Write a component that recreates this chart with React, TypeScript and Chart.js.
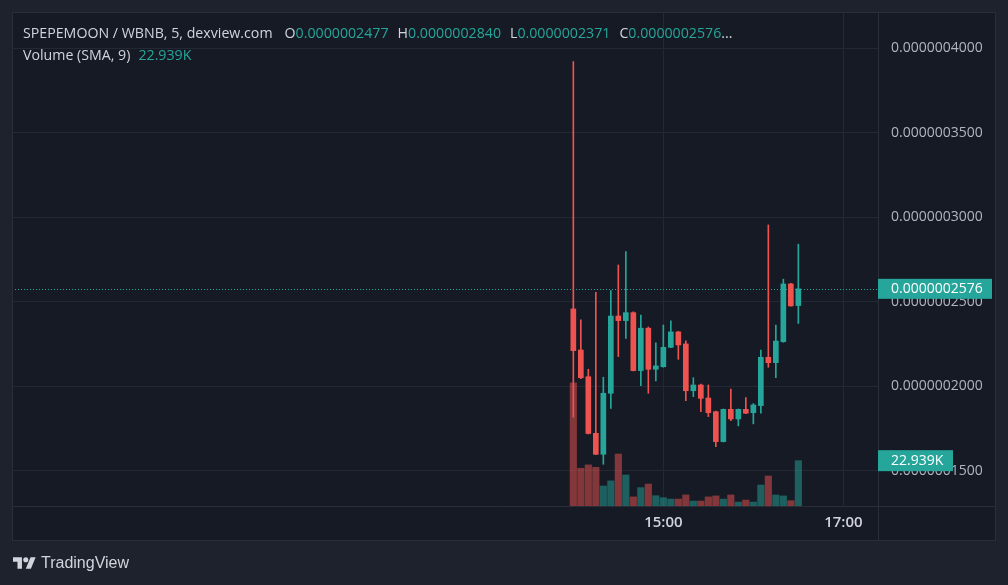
import React, { useEffect, useRef } from "react";
import { Chart, registerables } from "chart.js";

Chart.register(...registerables);

const times = [
  "14:00", "14:05", "14:10", "14:15", "14:20", "14:25", "14:30", "14:35", "14:40", "14:45",
  "14:50", "14:55", "15:00", "15:05", "15:10", "15:15", "15:20", "15:25", "15:30", "15:35",
  "15:40", "15:45", "15:50", "15:55", "16:00", "16:05", "16:10", "16:15", "16:20", "16:25",
  "16:30",
];

const opens = [
  0.0000002457, 0.0000002214, 0.0000002056, 0.0000001721, 0.0000001597, 0.0000001958, 0.0000002415, 0.0000002388,
  0.0000002435, 0.0000002092, 0.0000002343, 0.00000021, 0.0000002115, 0.000000223, 0.0000002321, 0.000000225,
  0.0000001973, 0.0000002007, 0.000000193, 0.0000001849, 0.0000001672, 0.0000001863, 0.0000001806, 0.0000001863,
  0.0000001843, 0.0000001885, 0.0000002171, 0.0000002139, 0.0000002263, 0.0000002605, 0.0000002477,
];
const highs = [
  0.000000392, 0.0000002392, 0.00000021, 0.0000002556, 0.0000002053, 0.0000002565, 0.0000002717, 0.0000002796,
  0.000000244, 0.0000002421, 0.000000235, 0.0000002257, 0.0000002362, 0.0000002386, 0.0000002325, 0.0000002269,
  0.000000205, 0.0000002012, 0.0000002007, 0.0000001852, 0.0000001865, 0.0000001983, 0.0000001865, 0.0000001932,
  0.0000001897, 0.0000002214, 0.0000002954, 0.0000002362, 0.0000002633, 0.0000002608, 0.000000284,
];
const lows = [
  0.0000001816, 0.0000002045, 0.0000001717, 0.0000001595, 0.0000001538, 0.0000001869, 0.0000002175, 0.0000002283,
  0.000000209, 0.0000002003, 0.0000001958, 0.0000002031, 0.0000002112, 0.0000002228, 0.0000002159, 0.0000001914,
  0.0000001938, 0.0000001849, 0.000000182, 0.0000001642, 0.000000167, 0.0000001796, 0.0000001765, 0.0000001838,
  0.0000001777, 0.000000184, 0.0000002112, 0.000000205, 0.000000226, 0.0000002473, 0.0000002371,
];
const closes = [
  0.000000221, 0.000000205, 0.000000172, 0.0000001597, 0.0000001958, 0.0000002415, 0.0000002388, 0.0000002435,
  0.0000002092, 0.0000002343, 0.00000021, 0.000000212, 0.000000223, 0.0000002321, 0.0000002244, 0.0000001973,
  0.0000002007, 0.0000001928, 0.0000001843, 0.0000001672, 0.0000001863, 0.0000001806, 0.0000001863, 0.000000184,
  0.0000001889, 0.0000002171, 0.0000002139, 0.0000002267, 0.0000002605, 0.0000002475, 0.0000002576,
];
const volumes = [
  62300, 19100, 20800, 19600, 10100, 12700, 26300, 15700, 4600, 9300,
  11100, 5200, 4200, 3500, 3500, 5600, 2500, 2500, 4600, 5100,
  3500, 5600, 2000, 3000, 2000, 10600, 15200, 5600, 5100, 2700,
  22939,
];

const priceTicks = [0.00000015, 0.0000002, 0.00000025, 0.0000003, 0.00000035, 0.0000004];
const timeTicks = ["15:00", "17:00"];

const UP = "#26a69a";
const DOWN = "#ef5350";
const UP_VOL = "rgba(38,166,154,0.5)";
const DOWN_VOL = "rgba(239,83,80,0.5)";
const FONT = "'Open Sans', Roboto, sans-serif";

const toMin = (t: string) => {
  const [h, m] = t.split(":").map(Number);
  return h * 60 + m;
};
const fmtTime = (m: number) =>
  `${String(Math.floor(m / 60)).padStart(2, "0")}:${String(Math.round(m) % 60).padStart(2, "0")}`;

export default function App() {
  const ref = useRef<HTMLCanvasElement | null>(null);

  useEffect(() => {
    document.body.style.margin = "0";
    const canvas = ref.current;
    if (!canvas) return;
    const xs = times.map(toMin);
    const isUp = opens.map((o, i) => closes[i] >= o);
    const colors = isUp.map((u) => (u ? UP : DOWN));
    const volColors = isUp.map((u) => (u ? UP_VOL : DOWN_VOL));
    const last = closes.length - 1;

    const framePlugin = {
      id: "frame",
      beforeDraw(chart: any) {
        const ctx = chart.ctx;
        ctx.save();
        ctx.fillStyle = "#1e222d";
        ctx.fillRect(0, 0, chart.width, chart.height);
        ctx.fillStyle = "#161a25";
        ctx.fillRect(12, 12, 983, 529);
        ctx.restore();
      },
      beforeDatasetsDraw(chart: any) {
        const ctx = chart.ctx;
        const ca = chart.chartArea;
        const y = Math.round(chart.scales.y.getPixelForValue(closes[last])) + 0.5;
        ctx.save();
        ctx.strokeStyle = UP;
        ctx.lineWidth = 1;
        ctx.setLineDash([1, 2]);
        ctx.beginPath();
        ctx.moveTo(ca.left, y);
        ctx.lineTo(ca.right, y);
        ctx.stroke();
        ctx.restore();
      },
      afterDraw(chart: any) {
        const ctx = chart.ctx;
        const ca = chart.chartArea;
        ctx.save();
        ctx.strokeStyle = "#2a2e39";
        ctx.lineWidth = 1;
        ctx.strokeRect(12.5, 12.5, 983, 528);
        ctx.beginPath();
        ctx.moveTo(ca.right + 0.5, 12);
        ctx.lineTo(ca.right + 0.5, 541);
        ctx.moveTo(12, ca.bottom + 0.5);
        ctx.lineTo(995, ca.bottom + 0.5);
        ctx.stroke();

        const py = chart.scales.y.getPixelForValue(closes[last]);
        ctx.fillStyle = UP;
        ctx.fillRect(ca.right, py - 10, 114, 20);
        ctx.fillStyle = "#ffffff";
        ctx.font = `14px ${FONT}`;
        ctx.textBaseline = "middle";
        ctx.textAlign = "left";
        ctx.fillText(closes[last].toFixed(10), ca.right + 13, py + 0.5);

        const vy = chart.scales.yVol.getPixelForValue(volumes[last]);
        ctx.fillStyle = UP;
        ctx.fillRect(ca.right, vy - 10.5, 75, 21);
        ctx.fillStyle = "#ffffff";
        ctx.fillText((volumes[last] / 1000).toFixed(3) + "K", ca.right + 13, vy + 0.5);
        ctx.restore();
      },
    };

    const chart = new Chart(canvas, {
      type: "bar",
      data: {
        datasets: [
          {
            label: "body",
            data: xs.map((x, i) => ({ x, y: [opens[i], closes[i]] })) as any,
            backgroundColor: colors,
            borderWidth: 0,
            barThickness: 5,
            grouped: false,
            order: 0,
            yAxisID: "y",
          },
          {
            label: "wick",
            data: xs.map((x, i) => ({ x, y: [lows[i], highs[i]] })) as any,
            backgroundColor: colors,
            borderWidth: 0,
            barThickness: 1,
            grouped: false,
            order: 1,
            yAxisID: "y",
          },
          {
            label: "volume",
            data: xs.map((x, i) => ({ x, y: volumes[i] })) as any,
            backgroundColor: volColors,
            borderWidth: 0,
            barThickness: 6.5,
            grouped: false,
            order: 2,
            yAxisID: "yVol",
          },
        ],
      },
      options: {
        responsive: false,
        animation: false,
        devicePixelRatio: 1,
        layout: { padding: { left: 12, top: 12, right: 13, bottom: 44 } },
        plugins: { legend: { display: false }, tooltip: { enabled: false } },
        scales: {
          x: {
            type: "linear",
            position: "bottom",
            min: 465.8,
            max: 1043.1,
            offset: false,
            grid: { color: "#242833", drawTicks: false, offset: false },
            border: { display: false },
            afterBuildTicks: (s: any) => {
              s.ticks = timeTicks.map((t) => ({ value: toMin(t) }));
            },
            afterFit: (s: any) => {
              s.height = 35;
              s.paddingLeft = 0;
              s.paddingRight = 0;
              s.paddingTop = 0;
              s.paddingBottom = 0;
            },
            ticks: {
              color: "#d1d4dc",
              font: { family: FONT, size: 15, weight: "600" },
              padding: 8,
              maxRotation: 0,
              autoSkip: false,
              callback: (v: any) => fmtTime(Number(v)),
            },
          },
          y: {
            type: "linear",
            position: "right",
            min: 0.0000001291,
            max: 0.0000004214,
            grid: { color: "#242833", drawTicks: false },
            border: { display: false },
            afterBuildTicks: (s: any) => {
              s.ticks = priceTicks.map((v) => ({ value: v }));
            },
            afterFit: (s: any) => {
              s.width = 117;
              s.paddingTop = 0;
              s.paddingBottom = 0;
              s.paddingLeft = 0;
              s.paddingRight = 0;
            },
            ticks: {
              color: "#b2b5be",
              font: { family: FONT, size: 14 },
              padding: 13,
              autoSkip: false,
              callback: (v: any) => Number(v).toFixed(10),
            },
          },
          yVol: {
            type: "linear",
            display: false,
            min: 0,
            max: 250000,
          },
        },
      },
      plugins: [framePlugin],
    } as any);

    return () => chart.destroy();
  }, []);

  const label = { color: "#d1d4dc" };
  const val = { color: "#26a69a" };

  return (
    <div
      style={{
        position: "fixed",
        left: 0,
        top: 0,
        width: 1008,
        height: 585,
        background: "#1e222d",
        overflow: "hidden",
      }}
    >
      <canvas ref={ref} width={1008} height={585} style={{ position: "absolute", left: 0, top: 0 }} />
      <div
        style={{
          position: "absolute",
          left: 23,
          top: 23,
          font: `14.2px ${FONT}`,
          lineHeight: "20px",
          whiteSpace: "nowrap",
        }}
      >
        <div>
          <span style={label}>SPEPEMOON / WBNB, 5, dexview.com</span>
          <span style={{ ...label, marginLeft: 12 }}>O</span>
          <span style={val}>0.0000002477</span>
          <span style={{ ...label, marginLeft: 9 }}>H</span>
          <span style={val}>0.0000002840</span>
          <span style={{ ...label, marginLeft: 9 }}>L</span>
          <span style={val}>0.0000002371</span>
          <span style={{ ...label, marginLeft: 9 }}>C</span>
          <span style={val}>0.0000002576</span>
          <span style={label}>...</span>
        </div>
        <div style={{ marginTop: 2 }}>
          <span style={label}>Volume (SMA, 9)</span>
          <span style={{ ...val, marginLeft: 8 }}>22.939K</span>
        </div>
      </div>
      <div
        style={{
          position: "absolute",
          left: 13,
          top: 553,
          display: "flex",
          alignItems: "center",
          height: 20,
          whiteSpace: "nowrap",
        }}
      >
        <svg width={23} height={12} viewBox="0 4 36 18" style={{ display: "block" }}>
          <path d="M14 22H7V11H0V4h14v18zM28 22h-8l7.5-18h8L28 22z" fill="#d1d4dc" />
          <circle cx="20" cy="8" r="4" fill="#d1d4dc" />
        </svg>
        <span
          style={{
            marginLeft: 5,
            font: "16px 'Liberation Sans', Arial, sans-serif",
            color: "#d1d4dc",
          }}
        >
          TradingView
        </span>
      </div>
    </div>
  );
}
